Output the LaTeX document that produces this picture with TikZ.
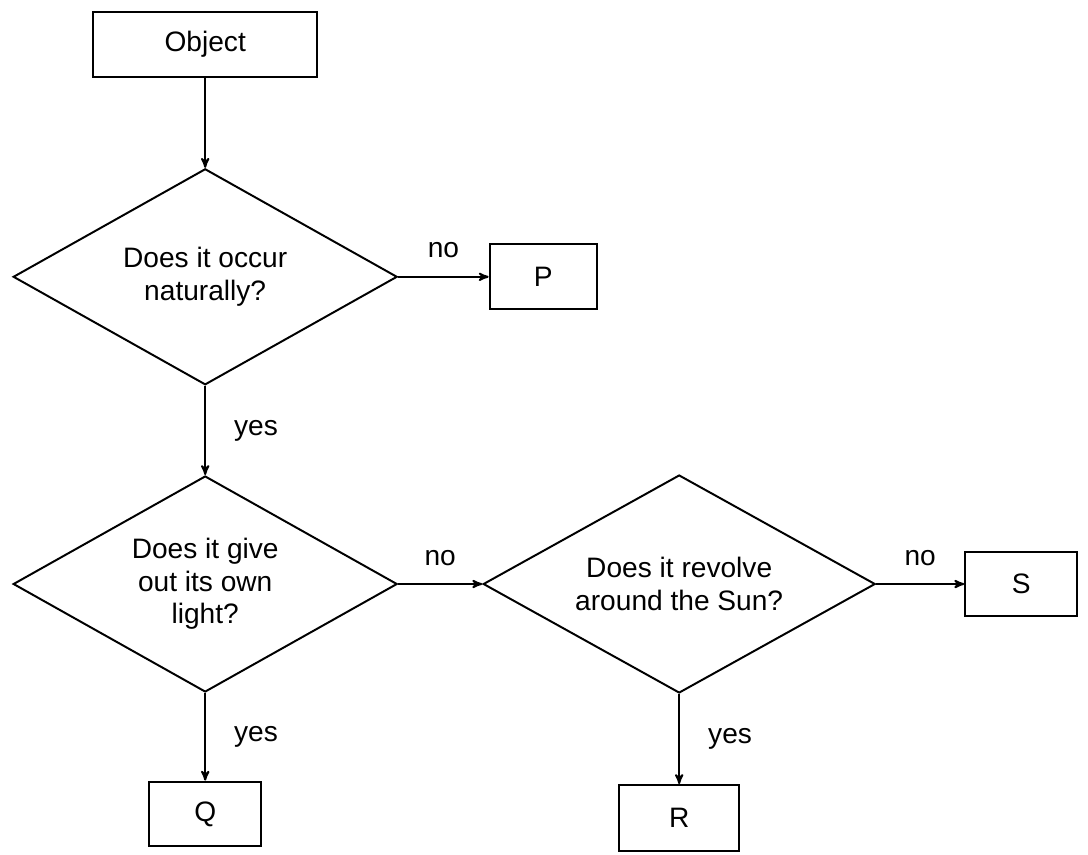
\documentclass[tikz,border=0pt]{standalone}
\usepackage{fontspec}
\setmainfont{Liberation Sans}
\usetikzlibrary{arrows,shapes.geometric}

\begin{document}
\begin{tikzpicture}[->,line width=1.4pt,>=stealth',font=\fontsize{20}{23}\selectfont]
    \tikzstyle{box}=[draw=black, rectangle, inner sep=0pt, minimum width=2.8cm, minimum height=1.62cm, text=black]
    \tikzstyle{ask}=[draw=black, diamond, inner sep=0pt, aspect=1.78, align=center, minimum width=9.6cm, minimum height=5.4cm, text=black]
    \tikzstyle{no}=[draw=none, inner sep=0pt, above=0.44cm]
    \tikzstyle{yes}=[draw=none, inner sep=0pt, right=0.7cm]

    \useasboundingbox (0,0) rectangle (27.2,-21.35);

    \node[box, minimum width=5.6cm] (obj) at (5.13,-1.11)  {Object};
    \node[ask] (q1) at (5.13,-6.92)   {Does it occur\\naturally?};
    \node[box, minimum width=2.68cm] (p) at (13.58,-6.92)  {P};
    \node[ask] (q2) at (5.13,-14.6)   {Does it give\\out its own\\light?};
    \node[box] (q) at (5.13,-20.35)    {Q};
    \node[ask, minimum width=9.8cm, minimum height=5.45cm] (q3) at (16.98,-14.6) {Does it revolve\\around the Sun?};
    \node[box] (s) at (25.53,-14.6)   {S};
    \node[box, minimum width=3.0cm, minimum height=1.65cm] (r) at (16.98,-20.45) {R};
    \path
     (obj) edge (q1)
     (q1)  edge node[no] {no} (p)
     (q1)  edge node[yes] {yes} (q2)
     (q2)  edge node[no] {no} (q3)
     (q2)  edge node[yes] {yes} (q)
     (q3)  edge node[no] {no} (s)
     (q3)  edge node[yes] {yes} (r)
     ;
  \end{tikzpicture}
\end{document}
